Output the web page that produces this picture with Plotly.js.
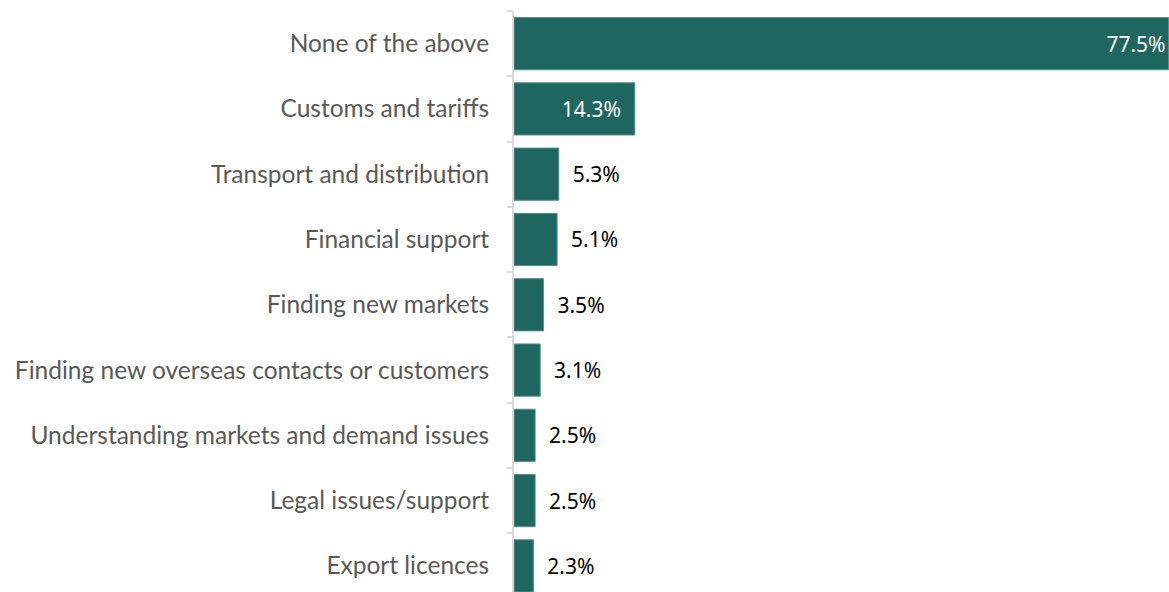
<!DOCTYPE html>
<html><head><meta charset="utf-8">
<script src="https://cdn.plot.ly/plotly-3.0.1.min.js"></script>
<style>html,body{margin:0;padding:0;background:#fff}#c{width:1169px;height:592px}</style>
</head><body><div id="c"></div>
<script>
const categories = ["None of the above","Customs and tariffs","Transport and distribution","Financial support","Finding new markets","Finding new overseas contacts or customers","Understanding markets and demand issues","Legal issues/support","Export licences"];
const values = [77.5,14.3,5.3,5.1,3.5,3.1,2.5,2.5,2.3];
const NB = "\u00a0";
const labels = values.map(v => v > 50 ? v.toFixed(1) + "%" : v > 10 ? v.toFixed(1) + "%" + NB + NB : NB + NB + v.toFixed(1) + "%");

const trace = {
  type: "bar", orientation: "h",
  y: categories, x: values,
  text: labels,
  textposition: values.map(v => v > 10 ? "inside" : "outside"),
  insidetextanchor: "end",
  constraintext: "none",
  insidetextfont: {family: "Noto Sans", size: 21, color: "#ffffff"},
  outsidetextfont: {family: "Noto Sans", size: 21, color: "#000000"},
  cliponaxis: false,
  marker: {color: "#1e6660", line: {color: "#5a8f8a", width: 1}},
  hoverinfo: "none"
};
const layout = {
  width: 1169, height: 592,
  margin: {l: 514, r: 0, t: 11.4, b: 0, pad: 0},
  paper_bgcolor: "#ffffff", plot_bgcolor: "#ffffff",
  bargap: 0.2,
  showlegend: false,
  xaxis: {range: [0, 77.55], visible: false, showgrid: false, zeroline: false},
  yaxis: {
    type: "category", range: [8.4, -0.5],
    showline: true, linecolor: "#d9d9d9", linewidth: 2,
    ticks: "outside", tickson: "boundaries", ticklen: 5, tickcolor: "#d9d9d9", tickwidth: 2,
    ticklabelstandoff: 18,
    tickfont: {family: "Lato", size: 24.5, color: "#595959"},
    showgrid: false, zeroline: false, automargin: false
  }
};
Plotly.newPlot("c", [trace], layout, {staticPlot: true, displayModeBar: false});
</script></body></html>
